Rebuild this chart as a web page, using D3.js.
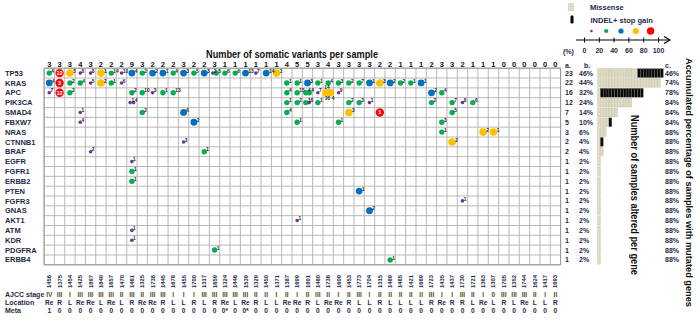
<!DOCTYPE html>
<html><head><meta charset="utf-8">
<script src="https://cdn.jsdelivr.net/npm/d3@7"></script>
<style>
body{margin:0;background:#fff}
svg{display:block}
text{font-family:"Liberation Sans",Arial,sans-serif}
</style>
</head><body>
<svg id="c" width="700" height="324"></svg>
<script>
// ---------------- DATA ----------------
const genes = ["TP53","KRAS","APC","PIK3CA","SMAD4","FBXW7","NRAS","CTNNB1","BRAF","EGFR","FGFR1","ERBB2","PTEN","FGFR3","GNAS","AKT1","ATM","KDR","PDGFRA","ERBB4"];
const samples = ["1456","1375","1454","1425","1897","1840","1657","1470","1461","1325","1738","1445","1678","1455","1700","1317","1659","1324","1446","1539","1329","1450","1371","1387","1699","1801","1480","1736","1609","1453","1773","1704","1315","1489","1465","1421","1669","1723","1435","1437","1730","1721","1363","1307","1705","1352","1744","1624","1417","1693"];
const variantCounts = [3,3,3,4,3,2,2,2,9,3,2,2,2,3,2,2,3,1,1,1,1,1,1,4,5,5,3,4,3,3,3,3,2,2,1,1,1,2,3,3,2,1,1,1,0,0,0,0,0,0];
const stages = ["IV","III","I","III","III","III","III","II","III","II","III","III","I","I","I","III","III","III","III","III","II","II","I","II","I","II","III","II","I","II","III","I","II","II","II","II","II","III","I","I","III","II","I","0","III","III","III","II","I","II"];
const locations = ["Re","R","L","Re","Re","L","Re","L","R","Re","Re","R","L","L","R","L","R","Re","L","Re","R","L","L","Re","Re","R","L","Re","Re","R","L","L","R","L","L","L","L","R","Re","R","R","L","Re","L","R","L","Re","L","L","R"];
const metas = ["1","0","0","0","0","0","0","0","0","0","0","0","0","0","0","0","0","0*","0","0*","0","0","0","0","0","0","0","0","0","0","0","0","0","0","0","0","0","0","0","0","0","0","0","0","0","0","0","0","0","0"];
// mutation: [sample, gene, allele-frequency class (0:0-20,1:20-40,2:40-60,3:60-80,4:80-100), label]
const mutations = [
 ["1456","TP53",1,"4"],["1456","KRAS",2,"4"],["1456","APC",0,"7"],
 ["1375","TP53",4,"12"],["1375","KRAS",4,"3"],["1375","APC",4,"12"],
 ["1454","TP53",3,"5"],["1454","KRAS",1,"2"],["1454","APC",1,"2"],
 ["1425","TP53",0,"8"],["1425","KRAS",1,"4"],["1425","SMAD4",0,"1"],["1425","FBXW7",0,"4"],
 ["1897","TP53",0,"8"],["1897","KRAS",0,"5"],["1897","BRAF",0,"2"],
 ["1840","TP53",3,"1"],["1840","KRAS",3,"2"],
 ["1657","TP53",1,"14"],["1657","KRAS",1,"1"],
 ["1470","TP53",0,"10"],["1470","KRAS",0,"6"],
 ["1461","TP53",2,"4"],["1461","APC",1,"2"],["1461","PIK3CA",0,"1"],["1461","PIK3CA",0,"4"],["1461","EGFR",0,"1"],["1461","FGFR1",1,"1"],["1461","ERBB2",1,"1"],["1461","ATM",0,"1"],["1461","KDR",0,"1"],
 ["1325","TP53",1,"2"],["1325","APC",1,"10"],["1325","SMAD4",1,"2"],
 ["1738","TP53",2,"2"],["1738","APC",0,"3"],
 ["1445","TP53",2,"1"],["1445","APC",1,"1"],
 ["1678","TP53",1,"4"],["1678","APC",1,"13"],
 ["1455","TP53",2,"3"],["1455","SMAD4",2,"6"],["1455","CTNNB1",0,"3"],
 ["1700","TP53",1,"5"],["1700","FBXW7",2,"2"],
 ["1317","TP53",2,"3"],["1317","BRAF",1,"1"],
 ["1659","TP53",0,"3"],["1659","TP53",1,"5"],["1659","PDGFRA",1,"1"],
 ["1324","TP53",1,"6"],
 ["1446","TP53",1,"6"],
 ["1539","TP53",2,"13"],
 ["1329","TP53",0,"7"],
 ["1450","TP53",2,"14"],
 ["1371","TP53",3,"1"],
 ["1387","KRAS",1,"1"],["1387","APC",1,"4"],["1387","PIK3CA",1,"1"],["1387","SMAD4",1,"4"],
 ["1699","KRAS",1,"1"],["1699","APC",1,"15"],["1699","PIK3CA",1,"2"],["1699","FBXW7",1,"1"],["1699","AKT1",0,"1"],
 ["1801","KRAS",2,"3"],["1801","APC",1,"4"],["1801","APC",1,"4"],["1801","PIK3CA",1,"1"],["1801","PIK3CA",0,"6"],
 ["1480","KRAS",1,"1"],["1480","APC",0,"7"],["1480","PIK3CA",1,"1"],
 ["1736","KRAS",1,"4"],["1736","APC",3,"14"],["1736","APC",3,"16"],["1736","APC",3,"4"],
 ["1609","KRAS",1,"3"],["1609","APC",0,"9"],["1609","FBXW7",1,"1"],
 ["1453","KRAS",1,"2"],["1453","PIK3CA",1,"2"],["1453","SMAD4",3,"3"],
 ["1773","KRAS",1,"7"],["1773","PIK3CA",1,"3"],["1773","PTEN",2,"1"],
 ["1704","KRAS",2,"1"],["1704","PIK3CA",0,"1"],["1704","GNAS",2,"2"],
 ["1315","KRAS",3,"3"],["1315","SMAD4",4,"1"],
 ["1489","KRAS",2,"2"],["1489","ERBB4",1,"1"],
 ["1465","KRAS",1,"2"],
 ["1421","KRAS",1,"1"],
 ["1669","KRAS",2,"1"],
 ["1723","APC",2,"2"],["1723","PIK3CA",1,"2"],
 ["1435","APC",1,"4"],["1435","FBXW7",1,"3"],["1435","NRAS",1,"1"],
 ["1437","PIK3CA",1,"7"],["1437","SMAD4",1,"5"],["1437","CTNNB1",3,"2"],
 ["1730","PIK3CA",0,"8"],["1730","FGFR3",0,"1"],
 ["1721","PIK3CA",1,"6"],
 ["1363","NRAS",3,"2"],
 ["1307","NRAS",3,"1"]
];
const geneSamples = [23,22,16,12,7,5,3,2,2,1,1,1,1,1,1,1,1,1,1,1];
const genePct = ["46%","44%","32%","24%","14%","10%","6%","4%","4%","2%","2%","2%","2%","2%","2%","2%","2%","2%","2%","2%"];
const accPct = ["46%","74%","78%","84%","84%","84%","88%","88%","88%","88%","88%","88%","88%","88%","88%","88%","88%","88%","88%","88%"];
const missenseN = [14,22,1,12,7,4,3,1,2,1,1,1,1,1,1,1,1,1,1,1];
const indelN    = [9,0,15,0,0,1,0,1,0,0,0,0,0,0,0,0,0,0,0,0];
const vafClasses = [10,30,50,70,90];
const vafTicks = [0,20,40,60,80,100];

// ---------------- STYLE ----------------
const colors = ["#7030A0","#00B050","#0070C0","#FFC000","#FF0000"];
const radii = [1.8,2.7,3.4,3.8,4.2];
const navy = "#1f2b47";

const svg = d3.select("#c");
const x = d3.scaleBand().domain(samples).range([44.1,560.6]);
const y = d3.scaleBand().domain(genes).range([68.2,264.8]);
const bw = x.bandwidth(), bh = y.bandwidth();

// title
svg.append("text").attr("x",206).attr("y",57.5).attr("font-size",10).attr("font-weight","bold")
  .attr("textLength",172).attr("lengthAdjust","spacingAndGlyphs").attr("fill","#111")
  .text("Number of somatic variants per sample");

// grid
const g = svg.append("g");
g.selectAll("line.v").data(d3.range(samples.length+1)).join("line")
  .attr("x1",i=>44.1+i*bw).attr("x2",i=>44.1+i*bw).attr("y1",68.2).attr("y2",264.8)
  .attr("stroke","#b0b0b0").attr("stroke-width",0.9);
g.selectAll("line.h").data(d3.range(genes.length+1)).join("line")
  .attr("y1",i=>68.2+i*bh).attr("y2",i=>68.2+i*bh).attr("x1",44.1).attr("x2",560.6)
  .attr("stroke","#b0b0b0").attr("stroke-width",0.9);
g.append("rect").attr("x",44.1).attr("y",68.2).attr("width",516.5).attr("height",196.6)
  .attr("fill","none").attr("stroke","#999").attr("stroke-width",1);

// count per sample
svg.append("g").selectAll("text").data(samples).join("text")
  .attr("x",d=>x(d)+bw/2).attr("y",67).attr("text-anchor","middle")
  .attr("font-size",7.5).attr("font-weight","bold").attr("fill","#111")
  .text((d,i)=>variantCounts[i]);

// gene labels
svg.append("g").selectAll("text").data(genes).join("text")
  .attr("x",5).attr("y",d=>y(d)+bh/2+2.6).attr("font-size",7.5).attr("font-weight","bold").attr("fill",navy)
  .text(d=>d);

// mutation dots
const cellCount = d3.rollup(mutations,v=>v.length,d=>d[0]+"|"+d[1]);
const cellIdx = new Map();
const dots = mutations.map(m=>{
  const key = m[0]+"|"+m[1];
  const n = cellCount.get(key);
  const k = cellIdx.get(key)||0; cellIdx.set(key,k+1);
  const off = (k-(n-1)/2)*(n>2?2.4:3.4);
  const cx = x(m[0])+bw/2+off, cy = y(m[1])+bh/2;
  const r = radii[m[2]];
  let lx = cx+r-0.6, ly = cy-0.3;
  if(n>2){ // stacked cluster: first label above, others below
    if(k===0){lx=cx-1.5; ly=cy-3.6;}
    else if(k===1){lx=cx-3.5; ly=cy+7.2;}
    else {lx=cx+1.2; ly=cy+7.2;}
  }
  return {cx, cy, c:m[2], label:m[3], lx, ly};
});
const dg = svg.append("g");
dg.selectAll("circle").data(dots).join("circle")
  .attr("cx",d=>d.cx).attr("cy",d=>d.cy).attr("r",d=>radii[d.c]).attr("fill",d=>colors[d.c]);
dg.selectAll("text").data(dots).join("text")
  .attr("x",d=>d.c===4?d.cx:d.lx)
  .attr("y",d=>d.c===4?d.cy+2:d.ly)
  .attr("text-anchor",d=>d.c===4?"middle":"start")
  .attr("font-size",d=>d.c===4?5.6:4.8).attr("font-weight","bold")
  .attr("fill",d=>d.c===4?"#fff":"#222")
  .text(d=>d.label);

// sample IDs (rotated)
svg.append("g").selectAll("text").data(samples).join("text")
  .attr("transform",d=>`translate(${x(d)+bw/2+2},281.5) rotate(-90)`)
  .attr("text-anchor","middle").attr("font-size",5.8).attr("font-weight","bold").attr("fill",navy)
  .text(d=>d);

// clinical rows
const clin = [["AJCC stage",stages,296.5],["Location",locations,304.8],["Meta",metas,312.8]];
clin.forEach(([lab,arr,yy])=>{
  svg.append("text").attr("x",5).attr("y",yy).attr("font-size",7).attr("font-weight","bold").attr("fill",navy).text(lab);
  svg.append("g").selectAll("text").data(samples).join("text")
    .attr("x",d=>x(d)+bw/2).attr("y",yy).attr("text-anchor","middle")
    .attr("font-size",6.6).attr("font-weight","bold").attr("fill",lab==="AJCC stage"?"#5a4a1a":navy)
    .text((d,i)=>arr[i]);
});

// right columns
const hdr = [["a.",565],["b.",584],["c.",665]];
svg.append("g").selectAll("text").data(hdr).join("text")
  .attr("x",d=>d[1]).attr("y",68).attr("font-size",7).attr("font-weight","bold").attr("fill",navy).text(d=>d[0]);
const rc = svg.append("g");
rc.selectAll("text.a").data(genes).join("text").attr("class","a")
  .attr("x",565).attr("y",d=>y(d)+bh/2+2.5).attr("font-size",7).attr("font-weight","bold").attr("fill",navy)
  .text((d,i)=>geneSamples[i]);
rc.selectAll("text.b").data(genes).join("text").attr("class","b")
  .attr("x",579).attr("y",d=>y(d)+bh/2+2.5).attr("font-size",7).attr("font-weight","bold").attr("fill",navy)
  .text((d,i)=>genePct[i]);
rc.selectAll("text.c").data(genes).join("text").attr("class","c")
  .attr("x",665).attr("y",d=>y(d)+bh/2+2.5).attr("font-size",7).attr("font-weight","bold").attr("fill",navy)
  .text((d,i)=>accPct[i]);

// bars
const bx = d3.scaleLinear().domain([0,23]).range([597.5,663.3]);
const units = [];
genes.forEach((gname,i)=>{
  for(let j=0;j<missenseN[i]+indelN[i];j++) units.push({g:gname,j,t:j<missenseN[i]?"m":"i"});
});
svg.append("g").selectAll("rect").data(units).join("rect")
  .attr("x",d=>bx(d.j)).attr("width",bx(1)-bx(0))
  .attr("y",d=>y(d.g)+0.5).attr("height",bh-1)
  .attr("fill",d=>d.t==="m"?"#ddd9c3":"#0a0a0a")
  .attr("stroke",d=>d.t==="m"?"#c4bfa3":"#777").attr("stroke-width",0.35);

// vertical titles
svg.append("text").attr("transform","translate(630.5,115) rotate(90)")
  .attr("font-size",10).attr("font-weight","bold").attr("fill","#111")
  .attr("textLength",160).attr("lengthAdjust","spacingAndGlyphs")
  .text("Number of samples altered per gene");
svg.append("text").attr("transform","translate(686,58) rotate(90)")
  .attr("font-size",9.6).attr("font-weight","bold").attr("fill","#111")
  .attr("textLength",249).attr("lengthAdjust","spacingAndGlyphs")
  .text("Accumulated percentage of samples with mutated genes");

// legend
const lg = svg.append("g");
lg.append("rect").attr("x",568).attr("y",3).attr("width",6).attr("height",8).attr("fill","#ddd9c3");
lg.append("text").attr("x",590).attr("y",10).attr("font-size",7.5).attr("font-weight","bold").attr("fill",navy).text("Missense");
lg.append("rect").attr("x",570.5).attr("y",15.5).attr("width",3).attr("height",8).attr("rx",1.2).attr("fill","#000");
lg.append("text").attr("x",590.5).attr("y",22.5).attr("font-size",7.5).attr("font-weight","bold").attr("fill",navy).text("INDEL+ stop gain");
const lx = d3.scaleLinear().domain([0,100]).range([584,658]);
const lrad = [1.3,2.1,2.6,3.1,3.7];
lg.selectAll("circle").data(vafClasses).join("circle")
  .attr("cx",d=>lx(d)).attr("cy",31).attr("r",(d,i)=>lrad[i]).attr("fill",(d,i)=>colors[i]);
const axis = d3.axisBottom(lx).tickValues(vafTicks).tickSize(0).tickPadding(8);
const ag = lg.append("g").attr("transform","translate(0,40)").call(axis);
ag.select(".domain").remove();
ag.selectAll("text").attr("font-size",7).attr("font-weight","bold").attr("fill",navy).attr("font-family","Liberation Sans, Arial, sans-serif");
ag.selectAll(".tick").append("line").attr("y1",-2.5).attr("y2",2.5).attr("stroke","#000").attr("stroke-width",1);
lg.append("line").attr("x1",576).attr("x2",669).attr("y1",40).attr("y2",40).attr("stroke","#000").attr("stroke-width",1.2);
lg.append("path").attr("d","M664,36.5 L670,40 L664,43.5").attr("fill","none").attr("stroke","#000").attr("stroke-width",1.2);
lg.append("text").attr("x",563).attr("y",54).attr("font-size",7).attr("font-weight","bold").attr("fill",navy).text("(%)");
</script>
</body></html>
